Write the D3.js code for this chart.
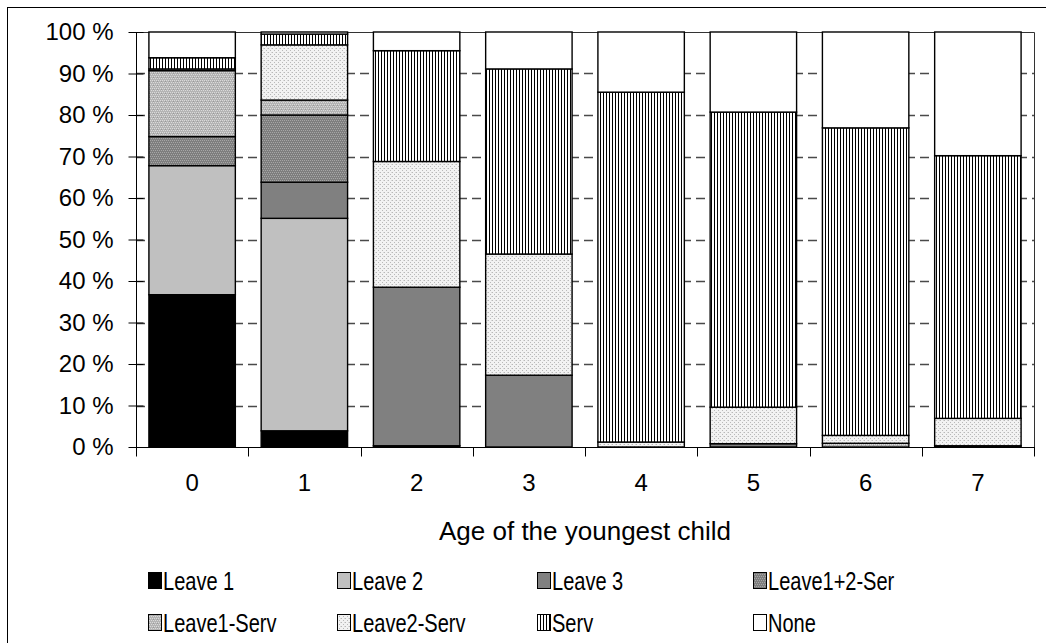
<!DOCTYPE html>
<html>
<head>
<meta charset="utf-8">
<script src="https://cdn.jsdelivr.net/npm/d3@7"></script>
<style>
  html, body { margin: 0; padding: 0; background: #fff; }
  svg { display: block; font-family: "Liberation Sans", Arial, sans-serif; }
</style>
</head>
<body>
<svg id="chart" width="1046" height="643"></svg>
<script>
// Age of the youngest child (years)
const categories = ["0", "1", "2", "3", "4", "5", "6", "7"];

// Share of families by arrangement, percent of each age group
const leave1     = [36.7,  3.9,  0.3,  0.0,  0.0,  0.0,  0.0,  0.3];
const leave2     = [31.1, 51.2,  0.0,  0.0,  0.0,  0.0,  0.0,  0.0];
const leave3     = [ 0.0,  8.7, 38.2, 17.3,  0.0,  0.8,  0.0,  0.0];
const leave12Ser = [ 7.0, 16.2,  0.0,  0.0,  0.0,  0.0,  0.0,  0.0];
const leave1Serv = [15.9,  3.6,  0.0,  0.0,  0.0,  0.0,  0.9,  0.0];
const leave2Serv = [ 0.4, 13.3, 30.3, 29.2,  1.2,  8.8,  1.9,  6.6];
const serv       = [ 2.7,  2.6, 26.7, 44.6, 84.3, 71.1, 74.1, 63.3];
const none       = [ 6.2,  0.5,  4.5,  8.9, 14.5, 19.3, 23.1, 29.8];

const seriesNames = ["Leave 1", "Leave 2", "Leave 3", "Leave1+2-Ser",
                     "Leave1-Serv", "Leave2-Serv", "Serv", "None"];
const seriesValues = [leave1, leave2, leave3, leave12Ser, leave1Serv, leave2Serv, serv, none];

const yTicks = [0, 10, 20, 30, 40, 50, 60, 70, 80, 90, 100];
const xTitle = "Age of the youngest child";

const rows = categories.map((c, i) => {
  const r = { cat: c };
  seriesNames.forEach((n, j) => { r[n] = seriesValues[j][i]; });
  return r;
});

const svg = d3.select("#chart");
const defs = svg.append("defs");

// Fill patterns for the dotted / hatched series
function dotPattern(id, bg, dots) {
  const p = defs.append("pattern").attr("id", id)
    .attr("patternUnits", "userSpaceOnUse").attr("width", 4).attr("height", 4);
  p.append("rect").attr("width", 4).attr("height", 4).attr("fill", bg).attr("shape-rendering", "crispEdges");
  dots.forEach(([px, py, c]) => p.append("rect").attr("x", px).attr("y", py)
    .attr("width", 1).attr("height", 1).attr("fill", c).attr("shape-rendering", "crispEdges"));
}
dotPattern("p-l12", "#7e7e7e", [[0, 0, "#a6a6a6"], [2, 0, "#a6a6a6"], [1, 2, "#a6a6a6"], [3, 2, "#a6a6a6"]]);
dotPattern("p-l1s", "#b4b4b4", [[0, 0, "#dadada"], [2, 0, "#dadada"], [1, 2, "#dadada"], [3, 2, "#dadada"], [1, 1, "#9a9a9a"]]);
dotPattern("p-l2s", "#f2f2f2", [[0, 0, "#b8b8b8"], [2, 2, "#b8b8b8"], [3, 0, "#d8d8d8"]]);
{
  const p = defs.append("pattern").attr("id", "p-serv")
    .attr("patternUnits", "userSpaceOnUse").attr("width", 3).attr("height", 3);
  p.append("rect").attr("width", 3).attr("height", 3).attr("fill", "#fff");
  p.append("rect").attr("x", 0).attr("width", 1).attr("height", 3).attr("fill", "#000");
}

const fills = {
  "Leave 1": "#000000",
  "Leave 2": "#c0c0c0",
  "Leave 3": "#808080",
  "Leave1+2-Ser": "url(#p-l12)",
  "Leave1-Serv": "url(#p-l1s)",
  "Leave2-Serv": "url(#p-l2s)",
  "Serv": "url(#p-serv)",
  "None": "#ffffff"
};

// Outer chart frame
svg.append("rect").attr("x", 7.5).attr("y", 7.5).attr("width", 1060).attr("height", 660)
  .attr("fill", "none").attr("stroke", "#000").attr("stroke-width", 1);

const plotLeft = 136, plotRight = 1034, plotTop = 32, plotBottom = 447;

const x = d3.scaleBand().domain(categories).range([plotLeft, plotRight])
  .paddingInner(0.23).paddingOuter(0.115);
const y = d3.scaleLinear().domain([0, 100]).range([plotBottom, plotTop]);

// Dashed horizontal gridlines
svg.append("g").selectAll("line").data(yTicks.filter(t => t > 0 && t < 100)).join("line")
  .attr("x1", plotLeft).attr("x2", plotRight)
  .attr("y1", d => Math.round(y(d)) + 0.5).attr("y2", d => Math.round(y(d)) + 0.5)
  .attr("stroke", "#4a4a4a").attr("stroke-width", 1.4).attr("stroke-dasharray", "9,5");

// Plot area border (top & right)
svg.append("path")
  .attr("d", `M${plotLeft},${plotTop + 0.5}H${plotRight + 0.5}V${plotBottom}`)
  .attr("fill", "none").attr("stroke", "#333").attr("stroke-width", 1);

// Stacked bars
const stack = d3.stack().keys(seriesNames);
const layers = stack(rows);
svg.append("g").selectAll("g").data(layers).join("g")
  .attr("fill", d => fills[d.key])
  .selectAll("rect").data(d => d.filter(s => s[1] - s[0] > 0)).join("rect")
  .attr("x", d => x(d.data.cat))
  .attr("width", x.bandwidth())
  .attr("y", d => y(d[1]))
  .attr("height", d => y(d[0]) - y(d[1]))
  .attr("stroke", "#000").attr("stroke-width", 1.4);

// Y axis
const yAxis = d3.axisLeft(y).tickValues(yTicks).tickFormat(d => d + " %")
  .tickSize(0).tickPadding(23);
const gy = svg.append("g").attr("transform", `translate(${plotLeft + 0.5},0)`).call(yAxis);
gy.select(".domain").remove();
gy.append("line").attr("y1", plotTop).attr("y2", plotBottom).attr("stroke", "#000");
gy.selectAll(".tick").append("line").attr("x1", -8).attr("x2", 7).attr("stroke", "#000");
gy.selectAll("text").attr("fill", "#000").style("font-size", "24px")
  .attr("font-family", "Liberation Sans, Arial, sans-serif");

// X axis
const xAxis = d3.axisBottom(x).tickSize(0).tickPadding(26);
const gx = svg.append("g").attr("transform", `translate(0,${plotBottom + 0.5})`).call(xAxis);
gx.select(".domain").remove();
gx.append("line").attr("x1", plotLeft).attr("x2", plotRight + 1).attr("stroke", "#000");
const boundaries = categories.map(c => x(c) - x.step() * x.paddingInner() / 2).concat([plotRight]);
gx.selectAll(".bound").data(boundaries).join("line").attr("class", "bound")
  .attr("x1", d => Math.round(d) + 0.5).attr("x2", d => Math.round(d) + 0.5)
  .attr("y1", 0).attr("y2", 9).attr("stroke", "#000");
gx.selectAll(".tick text").attr("fill", "#000").style("font-size", "24px")
  .attr("font-family", "Liberation Sans, Arial, sans-serif");

// X axis title
svg.append("text").attr("x", (plotLeft + plotRight) / 2).attr("y", 540)
  .attr("text-anchor", "middle").style("font-size", "26px").text(xTitle);

// Legend (narrow lettering, two rows of four)
const legCols = [148, 337, 537, 753];
const legRows = [580, 622];
const leg = svg.append("g").selectAll("g").data(seriesNames).join("g")
  .attr("transform", (d, i) => `translate(${legCols[i % 4]},${legRows[Math.floor(i / 4)]})`);
leg.append("rect").attr("x", 0.5).attr("y", -7.5).attr("width", 13).attr("height", 16)
  .attr("fill", d => fills[d]).attr("stroke", "#000").attr("stroke-width", 1);
leg.append("text").attr("transform", "translate(15,9.5) scale(0.77,1)")
  .style("font-size", "26px").text(d => d);
</script>
</body>
</html>
